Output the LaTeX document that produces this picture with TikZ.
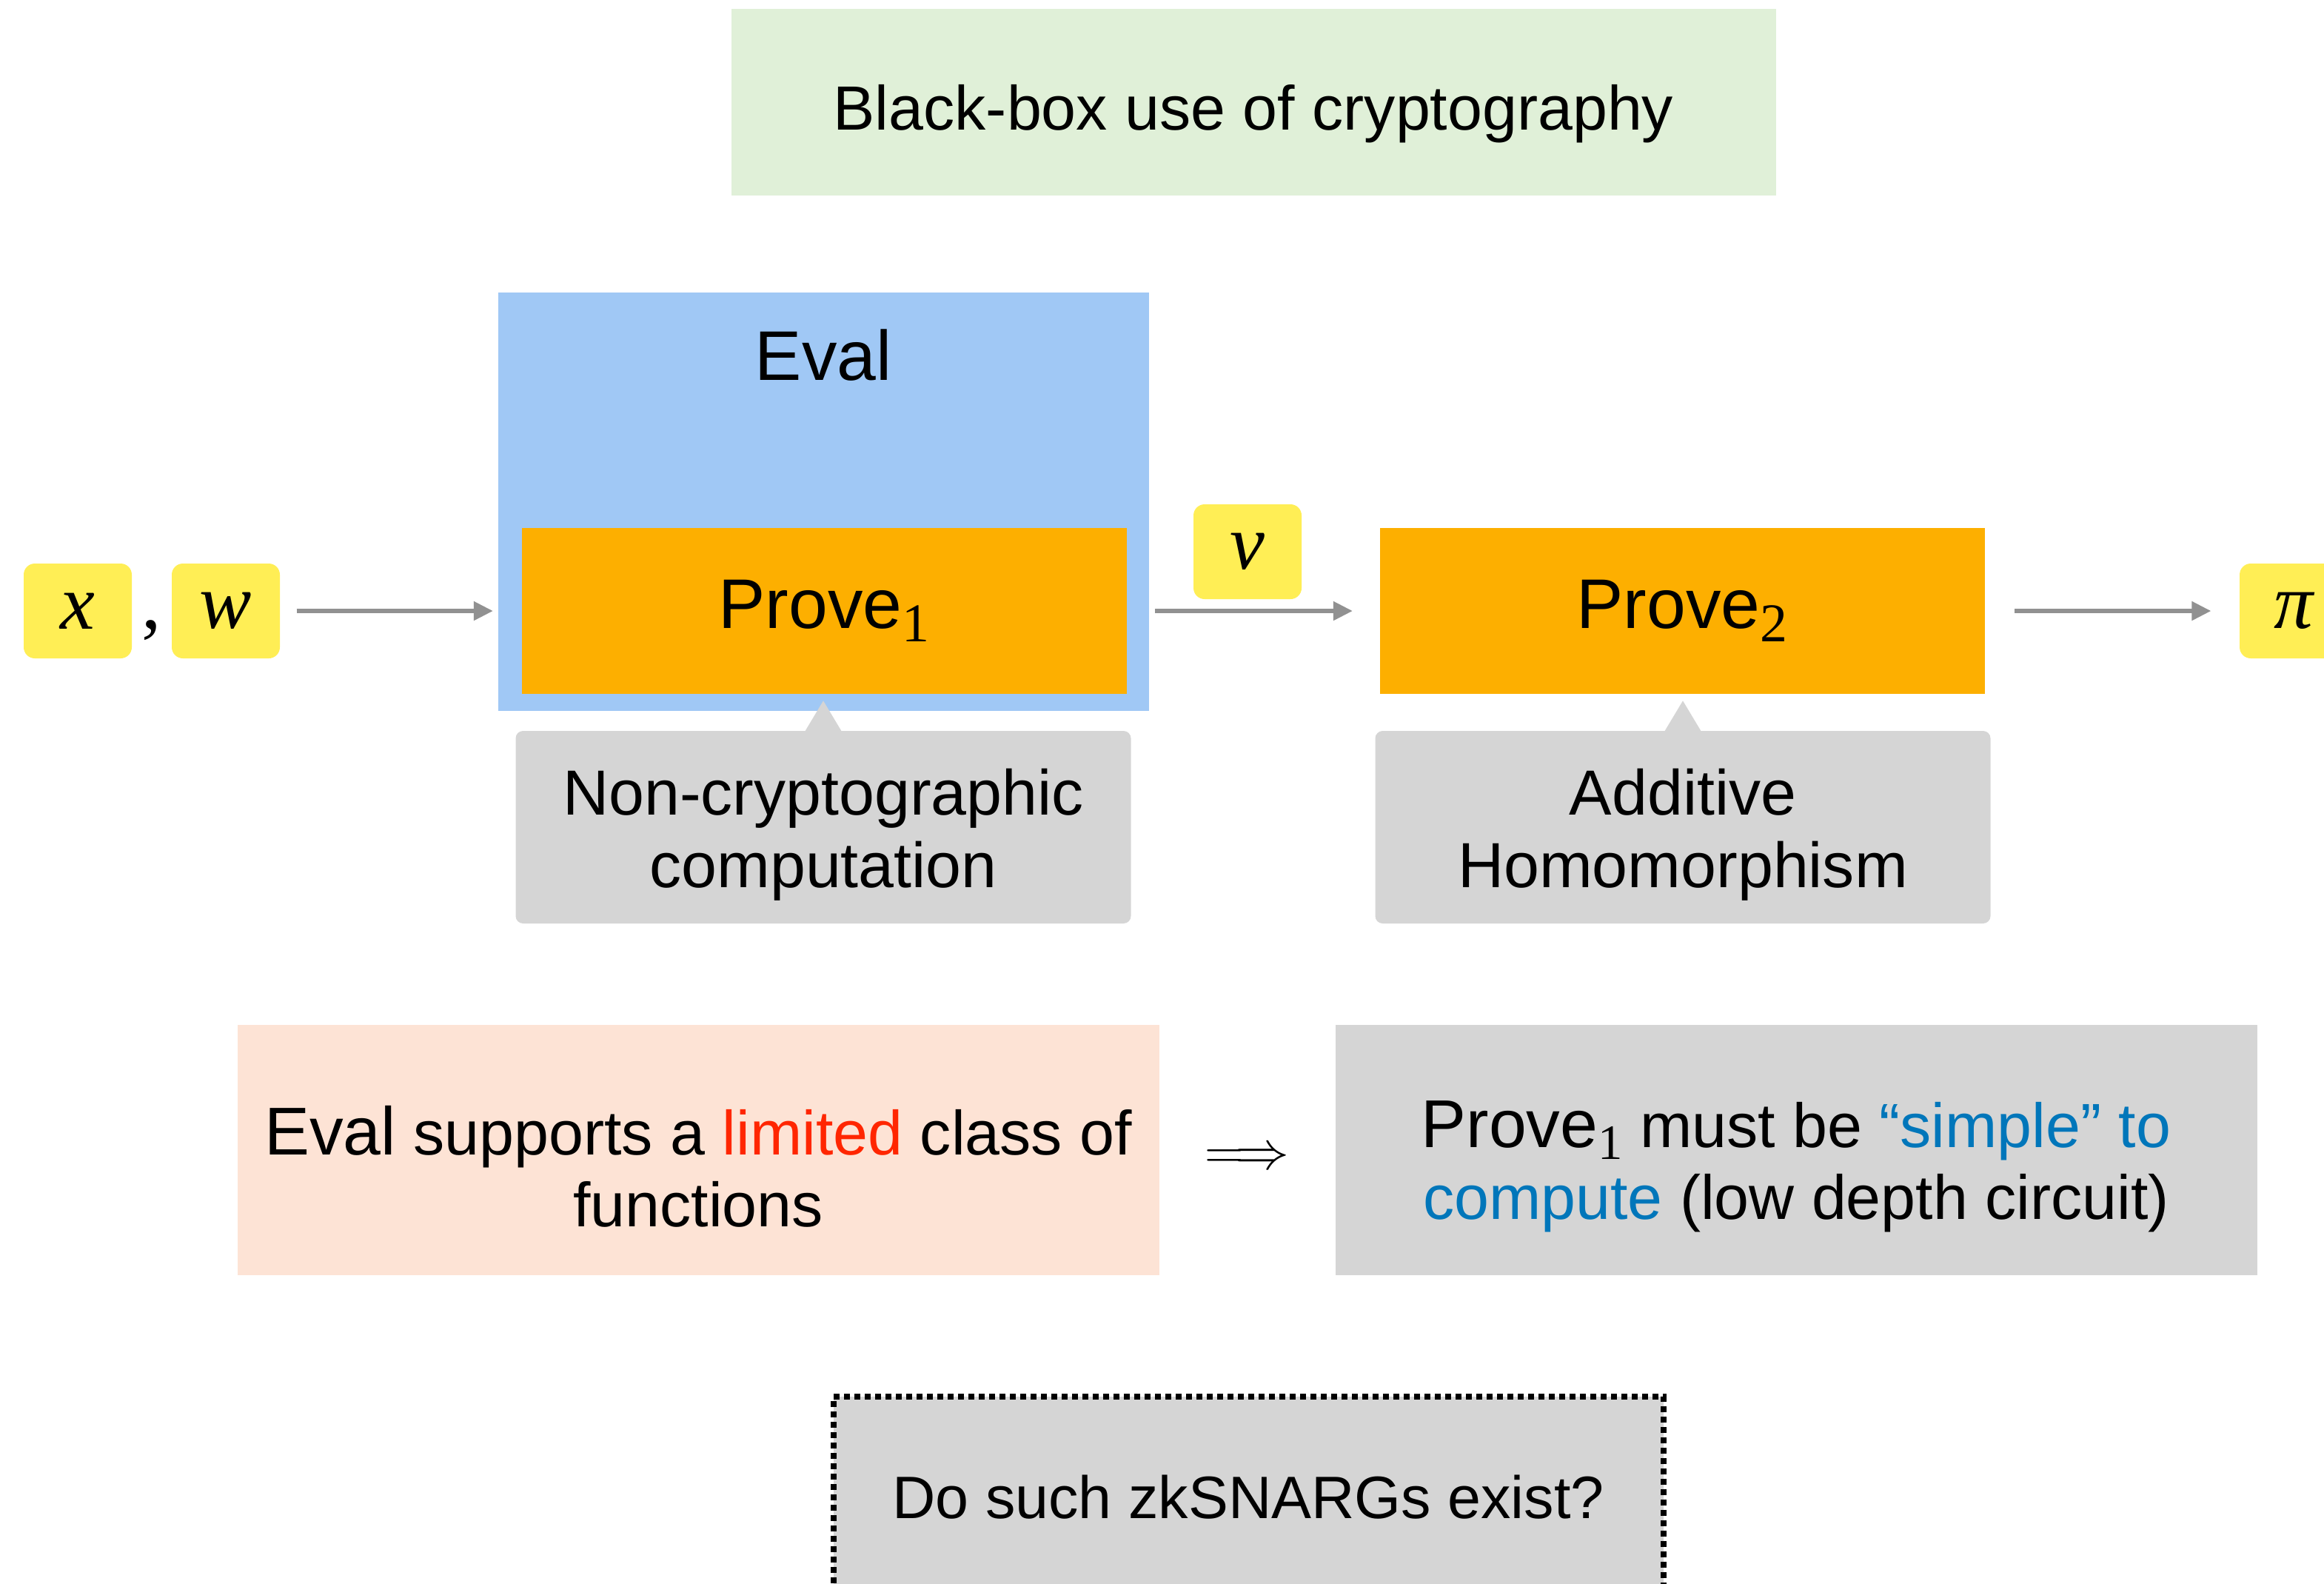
\documentclass[tikz,border=0pt]{standalone}
\usepackage{fontspec}
\setmainfont{Liberation Sans}
\newfontfamily\varfont{Liberation Serif}
\usepackage{xcolor}
\usepackage{tikz}
\usetikzlibrary{arrows.meta, positioning, calc}

\definecolor{boxgreen}{RGB}{224,240,216}
\definecolor{evalblue}{RGB}{160,200,245}
\definecolor{proveorange}{RGB}{253,175,0}
\definecolor{varyellow}{RGB}{255,238,85}
\definecolor{notegray}{RGB}{213,213,213}
\definecolor{peach}{RGB}{253,227,213}
\definecolor{arrowgray}{RGB}{145,145,145}
\definecolor{limitred}{RGB}{255,38,0}
\definecolor{simpleblue}{RGB}{0,118,186}

\newcommand{\bigfont}{\fontsize{27}{31}\selectfont}
\newcommand{\txtfont}{\fontsize{24}{27.5}\selectfont}
% serif index set low, as on the slide
\newcommand{\bigidx}[1]{\raisebox{-5pt}{\fontsize{21}{21}\selectfont\varfont #1}}
\newcommand{\smallidx}[1]{\raisebox{-4.5pt}{\fontsize{19}{19}\selectfont\varfont #1}}

\begin{document}
\begin{tikzpicture}[
  varbox/.style={fill=varyellow, rounded corners=1.5mm, minimum width=1.46cm, minimum height=1.28cm, inner sep=0pt, font=\fontsize{30}{30}\selectfont\varfont\itshape},
  provebox/.style={fill=proveorange, minimum width=8.17cm, minimum height=2.24cm, font=\bigfont},
  note/.style={fill=notegray, rounded corners=1mm, minimum width=8.31cm, minimum height=2.6cm},
  notetext/.style={align=center, font=\fontsize{24.5}{28}\selectfont},
  flow/.style={draw=arrowgray, line width=1.5pt, -{Triangle[length=2.6mm,width=2.5mm]}},
  claim/.style={minimum width=12.45cm, minimum height=3.38cm},
  claimtext/.style={align=center, font=\txtfont}
]
\useasboundingbox (0,0) rectangle (31.39,-21.38);

% header
\node[fill=boxgreen, minimum width=14.11cm, minimum height=2.52cm] (title) at (16.93,-1.38) {};
\node[font=\fontsize{24}{28}\selectfont] (titletext) at ($(title)+(0,-0.16)$) {Black-box use of cryptography};

% main pipeline
\node[fill=evalblue, minimum width=8.79cm, minimum height=5.65cm] (eval) at (11.12,-6.77) {};
\node[font=\bigfont] (evallbl) at ($(eval.north)+(0,-0.86)$) {Eval};
\node[provebox] (prove1) at (11.13,-8.25) {Prove\bigidx{1}};
\node[provebox] (prove2) at (22.72,-8.25) {Prove\bigidx{2}};

\node[varbox] (x) at (1.05,-8.25) {x};
\node[varbox] (w) at (3.05,-8.25) {w};
\node[font=\fontsize{30}{30}\selectfont\varfont, anchor=base] (comma) at ($(x.base)!0.5!(w.base)$) {,};
\node[varbox] (v) at (16.85,-7.45) {v};
\node[varbox] (pi) at (30.98,-8.25) {π};

\draw[flow, shorten <=0.22cm, shorten >=0.06cm] (w.east) -- (w.east -| eval.west);
\draw[flow, shorten <=0.08cm, shorten >=0.36cm] (prove1.east -| eval.east) -- (prove2.west);
\draw[flow, shorten <=0.40cm, shorten >=0.38cm] (prove2.east) -- (pi.west);

% callouts
\node[note] (note1) at (11.12,-11.17) {};
\node[note] (note2) at (22.73,-11.17) {};
\fill[notegray] ($(note1.north)+(-0.27,-0.05)$) -- ($(note1.north)+(0,0.40)$) -- ($(note1.north)+(0.27,-0.05)$) -- cycle;
\fill[notegray] ($(note2.north)+(-0.27,-0.05)$) -- ($(note2.north)+(0,0.40)$) -- ($(note2.north)+(0.27,-0.05)$) -- cycle;
\node[notetext] (note1text) at ($(note1)+(0,-0.10)$) {Non-cryptographic\\computation};
\node[notetext] (note2text) at ($(note2)+(0,-0.10)$) {Additive\\Homomorphism};

% consequence
\node[claim, fill=peach] (limits) at (9.43,-15.53) {};
\node[claim, fill=notegray] (simple) at (24.26,-15.53) {};
\node[claimtext] (limitstext) at ($(limits)+(0,-0.22)$) {{\fontsize{26}{28}\selectfont Eval} supports a \textcolor{limitred}{limited} class of\\functions};
\node[claimtext] (simpletext) at ($(simple)+(0,-0.22)$) {{\fontsize{26}{28}\selectfont Prove\smallidx{1}} must be \textcolor{simpleblue}{“simple” to}\\\textcolor{simpleblue}{compute} (low depth circuit)};
\node[font=\fontsize{21}{21}\selectfont, inner sep=0pt] (implies) at ($($(limits.east)!0.5!(simple.west)$)+(0,-0.12)$) {$\Longrightarrow$};

% open question
\node[fill=notegray, draw=black, line width=0.8mm, dash pattern=on 0.8mm off 0.6mm, minimum width=11.21cm, minimum height=2.72cm, font=\fontsize{23}{27}\selectfont] (question) at (16.86,-20.22) {Do such zkSNARGs exist?};
\end{tikzpicture}
\end{document}
